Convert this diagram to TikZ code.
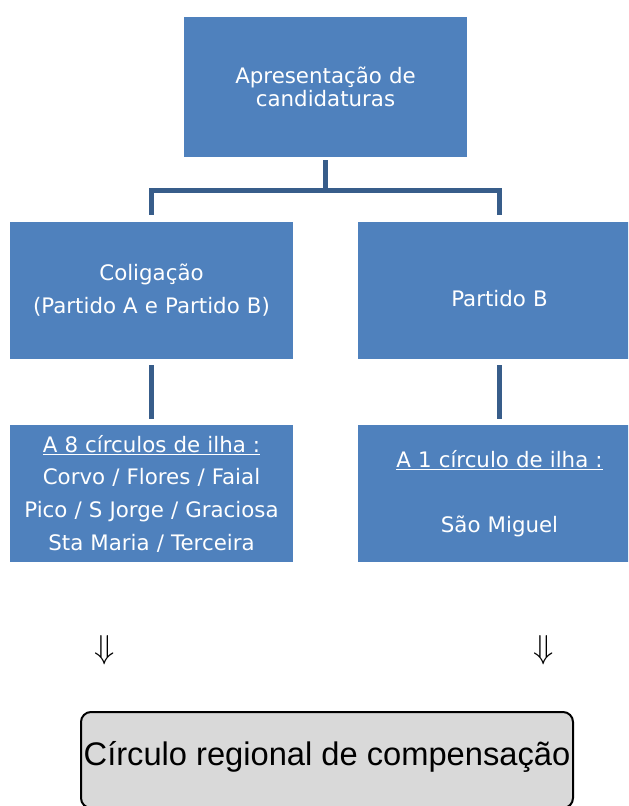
\documentclass[tikz,border=0pt]{standalone}
\usepackage{fontspec}
\setmainfont{DejaVu Sans}
\newfontfamily\regfont{Liberation Sans}
\usetikzlibrary{shapes,arrows}
\definecolor{boxblue}{HTML}{4F81BD}
\definecolor{linkblue}{HTML}{385D8A}
\definecolor{regrey}{HTML}{D9D9D9}
\begin{document}
\begin{tikzpicture}[x=0.75pt, y=-0.75pt, node distance=152.5pt]
	%define block styles
	\tikzset{
		party/.style={rectangle, minimum width=212.25pt, minimum height=102.75pt, text width=200pt, align=center, fill=boxblue, text=white, font=\fontsize{16}{24.5}\selectfont},
		regional/.style={rectangle, rounded corners=7.5pt, minimum width=369pt, minimum height=72pt, inner sep=1pt, text height=20pt, text depth=12pt, draw=black, line width=1.5pt, fill=regrey, font=\regfont\fontsize{24.5}{29}\selectfont},
		drop/.style={inner sep=0pt, font=\fontsize{24}{28}\selectfont},
		link/.style={linkblue, line width=3.75pt},
	}
	\clip (0,0) rectangle (628,806);
	%define nodes
	\node[party, minimum height=105pt, font=\fontsize{16}{17.5}\selectfont](start) at (325.5,87){Apresentação de\\candidaturas};
	\node[party, below of=start, xshift=-130.5pt](colig){Coligação\\(Partido A e Partido B)};
	\node[party, below of=start, xshift=130.5pt](partB){~\\Partido B};
	\node[party, below of=colig](ilhasA){\underline{A 8 círculos de ilha :}\\Corvo / Flores / Faial\\Pico / S Jorge / Graciosa\\Sta Maria / Terceira};
	\node[party, below of=partB](ilhaB){\underline{A 1 círculo de ilha :}\\~\\São Miguel};
	\node[drop, below of=ilhasA, node distance=117.4pt, xshift=-34.9pt](dropA){$\Downarrow$};
	\node[drop, below of=ilhaB, node distance=117.4pt, xshift=33.4pt](dropB){$\Downarrow$};
	\node[regional](comp) at (327,760){Círculo regional de compensação};
	\coordinate (fork) at (325.5,190);
	%define arrows
	\draw[link, shorten <=2.25pt] (start) -- (fork);
	\draw[link, shorten <=5.25pt, shorten >=5.25pt] (colig.north) |- (fork) -| (partB.north);
	\draw[link, shorten <=4.5pt, shorten >=4.5pt] (colig) -- (ilhasA);
	\draw[link, shorten <=4.5pt, shorten >=4.5pt] (partB) -- (ilhaB);
\end{tikzpicture}
\end{document}
